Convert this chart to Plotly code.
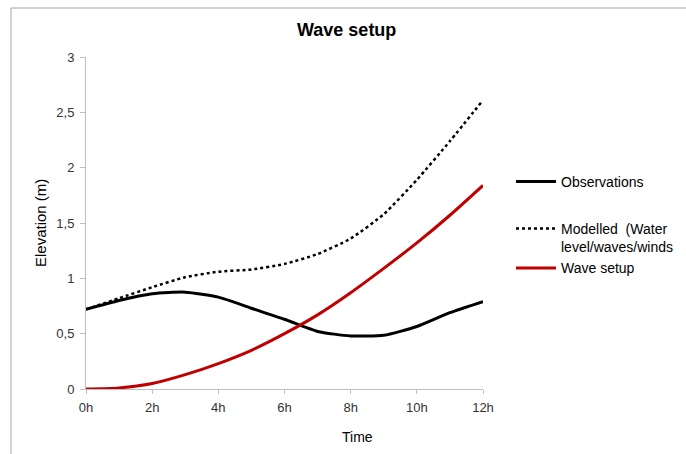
import plotly.graph_objects as go

hours = [0, 1, 2, 3, 4, 5, 6, 7, 8, 9, 10, 11, 12]
observations = [0.72, 0.80, 0.86, 0.875, 0.83, 0.73, 0.63, 0.52, 0.48, 0.485, 0.565, 0.69, 0.79]
modelled = [0.72, 0.82, 0.92, 1.01, 1.06, 1.08, 1.13, 1.22, 1.36, 1.58, 1.89, 2.24, 2.61]
wave_setup = [0.0, 0.01, 0.05, 0.13, 0.23, 0.35, 0.50, 0.67, 0.87, 1.09, 1.32, 1.57, 1.84]

x_tickvals = [0, 2, 4, 6, 8, 10, 12]
x_ticktext = ["0h", "2h", "4h", "6h", "8h", "10h", "12h"]
y_tickvals = [0, 0.5, 1, 1.5, 2, 2.5, 3]
y_ticktext = ["0", "0,5", "1", "1,5", "2", "2,5", "3"]

W, H = 686, 454
L, R, T, B = 86, 483, 57, 389  # plot area in window pixels
pw, ph = R - L, B - T

def px(xp):
    return (xp - L) / pw

def py(yp):
    return (B - yp) / ph

fig = go.Figure()
fig.add_trace(go.Scatter(x=hours, y=observations, mode="lines", name="Observations",
                         line=dict(color="#000000", width=3, shape="spline", smoothing=0.6),
                         legend="legend"))
fig.add_trace(go.Scatter(x=hours, y=modelled, mode="lines", name="Modelled  (Water<br>level/waves/winds",
                         line=dict(color="#000000", width=2.5, dash="dot", shape="spline", smoothing=0.6),
                         legend="legend2"))
fig.add_trace(go.Scatter(x=hours, y=wave_setup, mode="lines", name="Wave setup",
                         line=dict(color="#C00000", width=3, shape="spline", smoothing=0.6),
                         legend="legend2"))

axis_font = dict(family="Liberation Sans, Arial, sans-serif", size=13, color="#333333")
legend_font = dict(family="Liberation Sans, Arial, sans-serif", size=14, color="#000000")

fig.update_layout(
    width=W, height=H,
    margin=dict(l=L, r=W - R, t=T, b=H - B, pad=0, autoexpand=False),
    paper_bgcolor="white", plot_bgcolor="white",
    showlegend=True,
    xaxis=dict(range=[0, 12], tickvals=x_tickvals, ticktext=x_ticktext,
               showgrid=False, zeroline=False, showline=True, linecolor="#BFBFBF", linewidth=1,
               ticks="outside", ticklen=4, tickcolor="#BFBFBF", tickfont=axis_font,
               ticklabelstandoff=2),
    yaxis=dict(range=[0, 3], tickvals=y_tickvals, ticktext=y_ticktext,
               showgrid=False, zeroline=False, showline=True, linecolor="#BFBFBF", linewidth=1,
               ticks="outside", ticklen=5, tickcolor="#BFBFBF", tickfont=axis_font,
               ticklabelstandoff=3),
    legend=dict(x=px(511), xanchor="left", y=py(182), yanchor="middle",
                font=legend_font, bgcolor="rgba(0,0,0,0)", itemwidth=40, valign="top"),
    legend2=dict(x=px(511), xanchor="left", y=py(213), yanchor="top",
                 font=legend_font, bgcolor="rgba(0,0,0,0)", itemwidth=40, valign="top",
                 tracegroupgap=0),
    annotations=[
        dict(text="<b>Wave setup</b>", xref="paper", yref="paper", x=px(346), y=py(30),
             xanchor="center", yanchor="middle", showarrow=False,
             font=dict(family="Liberation Sans, Arial, sans-serif", size=18, color="#000000")),
        dict(text="Time", xref="paper", yref="paper", x=px(357), y=py(437),
             xanchor="center", yanchor="middle", showarrow=False,
             font=dict(family="Liberation Sans, Arial, sans-serif", size=14, color="#000000")),
        dict(text="Elevation (m)", xref="paper", yref="paper", x=px(40), y=py(223),
             xanchor="center", yanchor="middle", showarrow=False, textangle=-90,
             font=dict(family="Liberation Sans, Arial, sans-serif", size=15, color="#000000")),
    ],
    shapes=[
        dict(type="rect", xref="paper", yref="paper", x0=px(11), x1=px(700), y0=py(470), y1=py(8),
             line=dict(color="#A6A6A6", width=1), layer="below"),
    ],
)

fig.write_html("out.html", config={"displayModeBar": False},
               post_script="document.body.style.margin='0';document.body.style.overflow='hidden';")
